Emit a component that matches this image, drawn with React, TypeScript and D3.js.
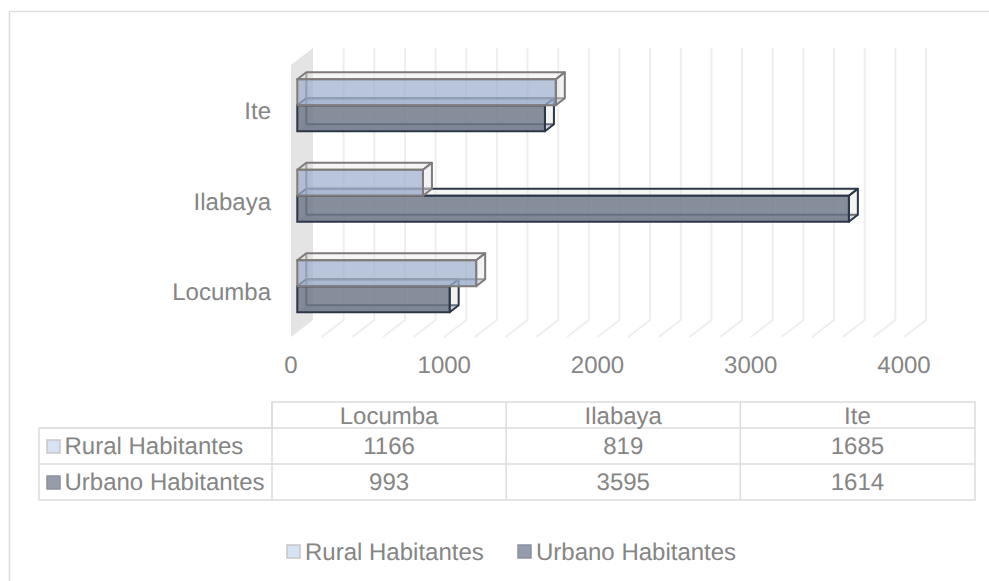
import React from "react";
import * as d3 from "d3";

const categories = ["Locumba", "Ilabaya", "Ite"];
const ruralValues = [1166, 819, 1685];
const urbanValues = [993, 3595, 1614];
const axisTicks = [0, 1000, 2000, 3000, 4000];
const gridValues = d3.range(0, 4200, 200);
const ruralName = "Rural Habitantes";
const urbanName = "Urbano Habitantes";

const TEXT = "#858585";
const FONT = "'Liberation Sans', Arial, sans-serif";
const FS = 24;

const x = d3.scaleLinear().domain([0, 4000]).range([291, 904]);
const barX = d3.scaleLinear().domain([0, 4000]).range([297.3, 911]);
const y = d3.scaleBand<string>().domain([...categories].reverse()).range([60, 331.5]);
const col = d3.scaleBand<string>().domain(categories).range([272, 974.5]);

const WALL = { dx: 22, dy: -17 };
const BAR = { dx: 9, dy: -7, h: 26 };

const pts = (p: number[][]) => p.map((q) => q.join(",")).join(" ");

function Cuboid({ value, top, stroke, front, bottom, faceOp, sideOp, id }: any) {
  const x0 = barX(0);
  const x1 = barX(value);
  const t = top;
  const b = top + BAR.h;
  const { dx, dy } = BAR;
  const sw = 2;
  return (
    <g data-id={id}>
      <polygon points={pts([[x0, b], [x1, b], [x1 + dx, b + dy], [x0 + dx, b + dy]])} fill={bottom} fillOpacity={0.35} />
      <g stroke={stroke} strokeWidth={sw} fill="none">
        <polyline points={pts([[x0 + dx, b + dy], [x0 + dx, t + dy]])} />
        <polyline points={pts([[x0 + dx, b + dy], [x1 + dx, b + dy]])} />
      </g>
      <polygon points={pts([[x0, t], [x1, t], [x1 + dx, t + dy], [x0 + dx, t + dy]])} fill="#e4e4e4" fillOpacity={sideOp} stroke={stroke} strokeWidth={sw} strokeLinejoin="round" />
      <polygon points={pts([[x1, t], [x1 + dx, t + dy], [x1 + dx, b + dy], [x1, b]])} fill="#dcdcdc" fillOpacity={sideOp} stroke={stroke} strokeWidth={sw} strokeLinejoin="round" />
      <rect x={x0} y={t} width={x1 - x0} height={BAR.h} fill={front} fillOpacity={faceOp} stroke={stroke} strokeWidth={sw} />
    </g>
  );
}

function Swatch({ px, py, fill, stroke }: any) {
  return <rect x={px} y={py} width={13} height={13} fill={fill} stroke={stroke} strokeWidth={1.5} />;
}

export default function App() {
  const tableLine = "#dcdcdc";
  const rows = [
    { name: ruralName, vals: ruralValues, base: 453, fill: "#d5e3f5", stroke: "#c9c6c6" },
    { name: urbanName, vals: urbanValues, base: 489, fill: "#959cab", stroke: "#8b919e" },
  ];
  return (
    <svg width={989} height={581} style={{ position: "absolute", left: 0, top: 0, background: "#fff", textRendering: "geometricPrecision" }} fontFamily={FONT} fontSize={FS}>
      <polyline points="9.5,581 9.5,11.5 989,11.5" fill="none" stroke="#dedede" strokeWidth={1.6} />

      <polygon points={pts([[x(0), 65], [x(0) + WALL.dx, 65 + WALL.dy], [x(0) + WALL.dx, 337 + WALL.dy], [x(0), 337]])} fill="#e4e4e4" />

      <g stroke="#eeeeee" strokeWidth={2} fill="none">
        {gridValues.slice(1).map((v) => (
          <polyline key={v} points={pts([[x(v) + WALL.dx, 65 + WALL.dy], [x(v) + WALL.dx, 337 + WALL.dy], [x(v), 337]])} />
        ))}
      </g>

      {[...categories].reverse().map((c) => {
        const i = categories.indexOf(c);
        const cy = y(c)! + y.bandwidth() / 2;
        return (
          <g key={c}>
            <Cuboid id="urban" value={urbanValues[i]} top={cy} stroke="#2b3747" front="#71798a" bottom="#7d8594" faceOp={0.85} sideOp={0.35} />
            <Cuboid id="rural" value={ruralValues[i]} top={cy - BAR.h} stroke="#7f7b7a" front="#9aadca" bottom="#8ea3c0" faceOp={0.7} sideOp={0.35} />
          </g>
        );
      })}

      <g fill={TEXT}>
        {axisTicks.map((t) => (
          <text key={t} x={x(t)} y={373} textAnchor="middle">{t}</text>
        ))}
        {categories.map((c) => (
          <text key={c} x={271} y={y(c)! + y.bandwidth() / 2 + 14} textAnchor="end">{c}</text>
        ))}
      </g>

      <g stroke={tableLine} strokeWidth={1.5} fill="none">
        <polyline points="39,464 39,428 272,428 272,402 975,402 975,500 39,500 39,464" />
        <line x1={39} x2={975} y1={428} y2={428} />
        <line x1={39} x2={975} y1={464} y2={464} />
        <line x1={272} x2={272} y1={402} y2={500} />
        {categories.slice(1).map((c) => (
          <line key={c} x1={col(c)} x2={col(c)} y1={402} y2={500} />
        ))}
      </g>
      <g fill={TEXT} textAnchor="middle">
        {categories.map((c) => (
          <text key={c} x={col(c)! + col.bandwidth() / 2} y={424}>{c}</text>
        ))}
        {rows.map((r) =>
          r.vals.map((v, i) => (
            <text key={r.name + i} x={col(categories[i])! + col.bandwidth() / 2} y={r.base + 1}>{v}</text>
          ))
        )}
      </g>
      {rows.map((r) => (
        <g key={r.name}>
          <Swatch px={47} py={r.base - 13} fill={r.fill} stroke={r.stroke} />
          <text x={64.5} y={r.base + 1} fill={TEXT}>{r.name}</text>
        </g>
      ))}

      <Swatch px={287} py={545} fill={rows[0].fill} stroke={rows[0].stroke} />
      <text x={305} y={560} fill={TEXT}>{ruralName}</text>
      <Swatch px={518} py={545} fill={rows[1].fill} stroke={rows[1].stroke} />
      <text x={536} y={560} fill={TEXT}>{urbanName}</text>
    </svg>
  );
}
